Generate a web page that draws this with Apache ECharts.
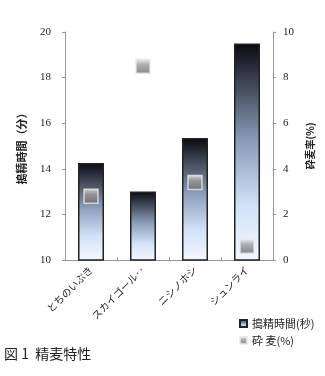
<!DOCTYPE html>
<html><head><meta charset="utf-8">
<script src="https://cdn.jsdelivr.net/npm/echarts@6/dist/echarts.min.js"></script>
<style>html,body{margin:0;padding:0;background:#fff}#c{width:325px;height:376px}</style>
</head><body><div id="c"></div>
<script>
// 品種ごとの搗精時間と砕麦率
const categories = ['とちのいぶき', 'スカイゴール‥', 'ニシノホシ', 'シュンライ'];
const polishTime = [14.25, 13.0, 15.35, 19.5];   // 搗精時間（左軸）
const brokenRate = [2.8, 8.5, 3.4, 0.6];        // 砕麦率 %（右軸）
const leftTicks = [10, 20, 2];
const rightTicks = [0, 10, 2];

const serif = '"Liberation Serif","DejaVu Serif",serif';
const chart = echarts.init(document.getElementById('c'));
const barFill = new echarts.graphic.LinearGradient(0, 0, 0, 1, [
  {offset: 0, color: '#0a0a10'},
  {offset: 0.45, color: '#8a9cb8'},
  {offset: 0.75, color: '#d2e2f8'},
  {offset: 1, color: '#f4f8ff'}
]);
const markFill = new echarts.graphic.LinearGradient(0, 0, 0, 1, [
  {offset: 0, color: '#f2f2f2'},
  {offset: 0.4, color: '#9a9a9a'},
  {offset: 1, color: '#6a6a6a'}
]);
chart.setOption({
  animation: false,
  grid: {left: 65, right: 52, top: 32, bottom: 116},
  xAxis: {
    type: 'category', data: categories,
    axisLine: {lineStyle: {color: '#999'}},
    axisTick: {show: true, inside: true, length: 3, lineStyle: {color: '#999'}},
    axisLabel: {rotate: 45, interval: 0, fontSize: 10, color: '#222', margin: 8,
      fontFamily: '"Noto Sans CJK JP",sans-serif'}
  },
  yAxis: [{
    type: 'value', min: leftTicks[0], max: leftTicks[1], interval: leftTicks[2],
    name: '搗精時間（分）', nameLocation: 'middle', nameGap: 38, nameRotate: 90,
    nameTextStyle: {fontSize: 11, fontWeight: 'bold', color: '#222', fontFamily: '"Noto Sans CJK JP",serif'},
    axisLine: {show: true, lineStyle: {color: '#999'}},
    axisTick: {show: true, length: 3, lineStyle: {color: '#999'}},
    splitLine: {show: false},
    axisLabel: {fontSize: 11, color: '#222', fontFamily: serif, margin: 14}
  }, {
    type: 'value', min: rightTicks[0], max: rightTicks[1], interval: rightTicks[2],
    name: '砕麦率(%)', nameLocation: 'middle', nameGap: 28, nameRotate: 90,
    nameTextStyle: {fontSize: 10, fontWeight: 'bold', color: '#222', fontFamily: '"Noto Sans CJK JP",serif'},
    axisLine: {show: true, lineStyle: {color: '#999'}},
    axisTick: {show: true, length: 3, lineStyle: {color: '#999'}},
    splitLine: {show: false},
    axisLabel: {fontSize: 11, color: '#222', fontFamily: serif, margin: 10}
  }],
  legend: {
    orient: 'vertical', left: 234, top: 313, itemWidth: 7, itemHeight: 7, itemGap: 6,
    textStyle: {fontSize: 11, color: '#222', fontFamily: '"Noto Sans CJK JP",sans-serif'},
    data: [{name: '搗精時間(秒)', icon: 'rect'}, {name: '砕 麦(%)', icon: 'rect'}]
  },
  series: [{
    name: '搗精時間(秒)', type: 'bar', data: polishTime, barWidth: 26,
    itemStyle: {color: barFill, borderColor: '#222', borderWidth: 1.5}
  }, {
    name: '砕 麦(%)', type: 'scatter', yAxisIndex: 1, data: brokenRate,
    symbol: 'rect', symbolSize: 14, z: 5,
    itemStyle: {color: markFill, borderColor: '#e8e8e8', borderWidth: 1.5}
  }],
  graphic: [{
    type: 'text', left: 4, top: 347,
    style: {text: '図 1  精麦特性', fontSize: 14, fill: '#222', fontFamily: '"Noto Sans CJK JP",sans-serif'}
  }]
});
</script></body></html>
